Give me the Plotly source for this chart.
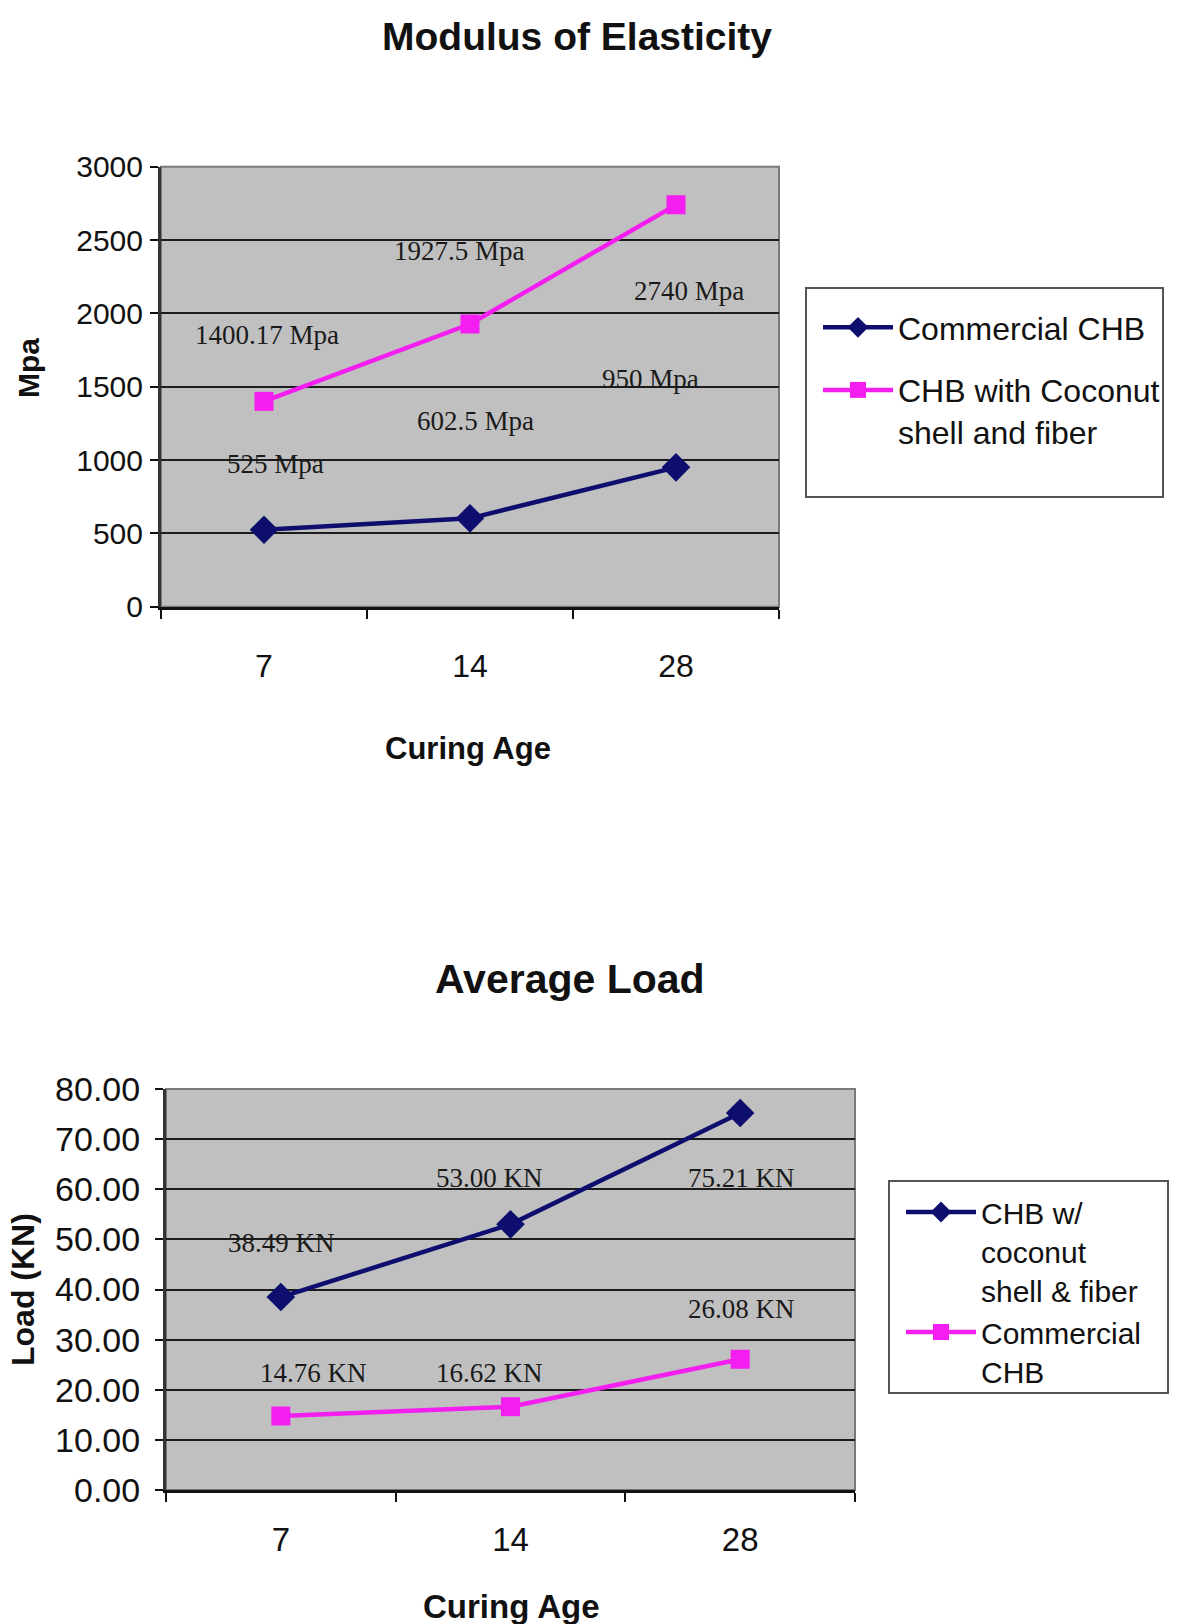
import plotly.graph_objects as go

W, H = 1177, 1624

# ---- data -------------------------------------------------------------
ages = ["7", "14", "28"]

# Modulus of elasticity, MPa
moe_commercial = [525, 602.5, 950]
moe_coconut = [1400.17, 1927.5, 2740]
moe_names = ["Commercial CHB", "CHB with Coconut<br>shell and fiber"]

# Average load, kN
load_coconut = [38.49, 53.00, 75.21]
load_commercial = [14.76, 16.62, 26.08]
load_names = ["CHB w/<br>coconut<br>shell & fiber", "Commercial<br>CHB"]

# ---- styling ----------------------------------------------------------
NAVY = "#0e0e6e"
MAGENTA = "#f51ef0"
PLOT_BG = "#c0c0c0"
GRID = "#1c1c1c"
SANS = "Liberation Sans, Arial, Helvetica, sans-serif"
SERIF = "Liberation Serif, Times New Roman, serif"

# label offsets from each marker, in pixels (dx right, dy up)
moe_commercial_off = [(11, 66), (5, 97), (-26, 88)]
moe_coconut_off = [(3, 66), (-11, 73), (13, -86)]
load_coconut_off = [(1, 54), (-21, 46), (1, -65)]
load_commercial_off = [(33, 43), (-21, 34), (1, 50)]


def px_x(p):
    return p / W


def px_y(p):
    return 1 - p / H


fig = go.Figure()

diamond = dict(symbol="diamond", size=22, color=NAVY)
square = dict(symbol="square", size=19, color=MAGENTA)

# top chart: modulus of elasticity
fig.add_trace(go.Scatter(
    x=ages, y=moe_commercial, name=moe_names[0], mode="lines+markers",
    line=dict(color=NAVY, width=4.5), marker=diamond,
    xaxis="x", yaxis="y", legend="legend", legendgroup="a",
))
fig.add_trace(go.Scatter(
    x=ages, y=moe_coconut, name=moe_names[1], mode="lines+markers",
    line=dict(color=MAGENTA, width=4.5), marker=square,
    xaxis="x", yaxis="y", legend="legend", legendgroup="b",
))

# bottom chart: average load
fig.add_trace(go.Scatter(
    x=ages, y=load_coconut, name=load_names[0], mode="lines+markers",
    line=dict(color=NAVY, width=4.5), marker=diamond,
    xaxis="x2", yaxis="y2", legend="legend2",
))
fig.add_trace(go.Scatter(
    x=ages, y=load_commercial, name=load_names[1], mode="lines+markers",
    line=dict(color=MAGENTA, width=4.5), marker=square,
    xaxis="x2", yaxis="y2", legend="legend2",
))

annotations = []


def value_labels(values, offsets, fmt, xref, yref):
    for i, (v, (dx, dy)) in enumerate(zip(values, offsets)):
        annotations.append(dict(
            x=i, y=v, xref=xref, yref=yref, text=fmt(v),
            showarrow=False, xshift=dx, yshift=dy,
            font=dict(family=SERIF, size=27, color="#1a1a1a"),
        ))


value_labels(moe_commercial, moe_commercial_off, lambda v: f"{v:g} Mpa", "x", "y")
value_labels(moe_coconut, moe_coconut_off, lambda v: f"{v:g} Mpa", "x", "y")
value_labels(load_coconut, load_coconut_off, lambda v: f"{v:.2f} KN", "x2", "y2")
value_labels(load_commercial, load_commercial_off, lambda v: f"{v:.2f} KN", "x2", "y2")


def paper_text(text, x, y, size, angle=0):
    annotations.append(dict(
        x=px_x(x), y=px_y(y), xref="paper", yref="paper", text=text,
        showarrow=False, xanchor="center", yanchor="middle", textangle=angle,
        font=dict(family=SANS, size=size, color="#111111"),
    ))


# chart and axis titles
paper_text("<b>Modulus of Elasticity</b>", 577, 36, 39)
paper_text("<b>Curing Age</b>", 468, 748, 31)
paper_text("<b>Mpa</b>", 29, 368, 30, angle=-90)
paper_text("<b>Average Load</b>", 570, 979, 41)
paper_text("<b>Curing Age</b>", 511, 1606, 33)
paper_text("<b>Load (KN)</b>", 23, 1290, 32, angle=-90)

common_x = dict(
    type="category", range=[-0.5, 2.5], tickson="boundaries",
    ticks="outside", ticklen=9, tickwidth=2, tickcolor="#111111",
    showline=True, linecolor="#111111", linewidth=3,
    showgrid=False, zeroline=False, automargin=False, fixedrange=True,
)
common_y = dict(
    ticks="outside", ticklen=8, tickwidth=2, tickcolor="#111111",
    showline=True, linecolor="#333333", linewidth=3,
    showgrid=True, gridcolor=GRID, gridwidth=2,
    zeroline=False, automargin=False, fixedrange=True,
)

legend_common = dict(
    xanchor="left", yanchor="top", bgcolor="rgba(0,0,0,0)", borderwidth=0,
    valign="top", itemwidth=70,
)

fig.update_layout(
    width=W, height=H,
    margin=dict(l=0, r=0, t=0, b=0),
    paper_bgcolor="white",
    plot_bgcolor=PLOT_BG,
    annotations=annotations,
    xaxis=dict(
        **common_x,
        domain=[px_x(161), px_x(779)], anchor="y",
        tickfont=dict(family=SANS, size=32, color="#111111"),
        ticklabelstandoff=29,
    ),
    yaxis=dict(
        **common_y,
        domain=[px_y(606.7), px_y(166.7)], anchor="x",
        range=[0, 3000], dtick=500,
        tickfont=dict(family=SANS, size=30, color="#111111"),
        ticklabelstandoff=1,
    ),
    xaxis2=dict(
        **common_x,
        domain=[px_x(166), px_x(855)], anchor="y2",
        tickfont=dict(family=SANS, size=33, color="#111111"),
        ticklabelstandoff=18,
    ),
    yaxis2=dict(
        **common_y,
        domain=[px_y(1490), px_y(1089)], anchor="x2",
        range=[0, 80], dtick=10, tickformat=".2f",
        tickfont=dict(family=SANS, size=34, color="#111111"),
        ticklabelstandoff=8,
    ),
    legend=dict(
        **legend_common,
        x=px_x(818), y=px_y(300), tracegroupgap=18,
        font=dict(family=SANS, size=32, color="#111111"),
    ),
    legend2=dict(
        **legend_common,
        x=px_x(901), y=px_y(1186), tracegroupgap=0,
        font=dict(family=SANS, size=30, color="#111111"),
    ),
    showlegend=True,
)

# plot-area frames
for xr, yr in (("x", "y"), ("x2", "y2")):
    fig.add_shape(
        type="rect", xref=f"{xr} domain", yref=f"{yr} domain",
        x0=0, x1=1, y0=0, y1=1, line=dict(color="#7a7a7a", width=2),
        layer="below",
    )

# legend frames
for x0, x1, y0, y1 in ((806, 1163, 288, 497), (889, 1168, 1181, 1393)):
    fig.add_shape(
        type="rect", xref="paper", yref="paper",
        x0=px_x(x0), x1=px_x(x1), y0=px_y(y1), y1=px_y(y0),
        line=dict(color="#555555", width=2), fillcolor="white", layer="below",
    )

fig.write_html("out.html")
